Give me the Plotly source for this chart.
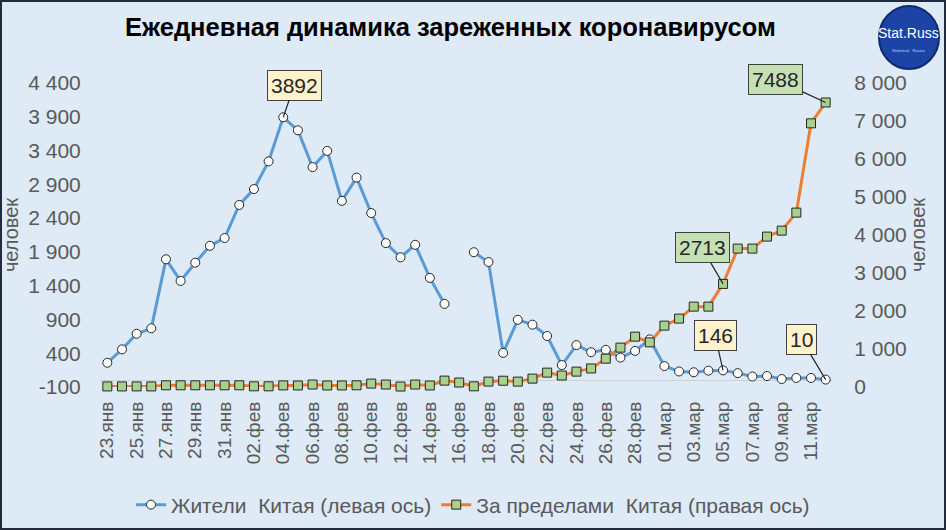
import plotly.graph_objects as go

# --- data ---------------------------------------------------------------
MONTHS = [("янв", range(23, 32)), ("фев", range(1, 30)), ("мар", range(1, 13))]
DATES = [f"{d:02d}.{m}" for m, days in MONTHS for d in days]

CHINA = [259, 457, 688, 769, 1790, 1470, 1740, 1990, 2105, 2595,
         2830, 3240, 3892, 3700, 3155, 3395, 2655, 3000, 2475, 2030,
         1820, 2005, 1515, 1130, None, 1895, 1750, 405, 895, 823,
         655, 225, 520, 415, 450, 335, 435, 605, 210, 130,
         118, 142, 146, 105, 55, 62, 18, 34, 34, 10]

OUTSIDE = [15, 15, 15, 15, 45, 45, 45, 45, 45, 45,
           18, 18, 42, 40, 65, 40, 40, 45, 90, 65,
           12, 65, 40, 168, 118, 18, 142, 165, 142, 220,
           378, 303, 405, 488, 746, 1036, 1325, 1175, 1615, 1800,
           2115, 2115, 2713, 3642, 3642, 3958, 4115, 4589, 6939, 7488]

LEFT_TICKS = [-100, 400, 900, 1400, 1900, 2400, 2900, 3400, 3900, 4400]
RIGHT_TICKS = [0, 1000, 2000, 3000, 4000, 5000, 6000, 7000, 8000]

# --- layout constants ---------------------------------------------------
W, H = 946, 530
L, R, T, B = 100, 113, 83, 143
PW, PH = W - L - R, H - T - B
BG = "#DEEAF6"
GREY = "#595959"
FONT = "Liberation Sans"


def px(x, y):
    """page pixel -> paper coords (for decorations only)"""
    return (x - L) / PW, (H - B - y) / PH


def fmt(v):
    return f"{v:,}".replace(",", " ")


fig = go.Figure()

fig.add_trace(go.Scatter(
    x=list(range(len(DATES))), y=CHINA,
    name="Жители  Китая (левая ось)",
    mode="lines+markers",
    line=dict(color="#5B9BD5", width=3),
    marker=dict(symbol="circle", size=9, color="white",
                line=dict(color="#262626", width=1)),
    connectgaps=False, cliponaxis=False,
))
fig.add_trace(go.Scatter(
    x=list(range(len(DATES))), y=OUTSIDE,
    name="За пределами  Китая (правая ось)",
    mode="lines+markers",
    line=dict(color="#ED7D31", width=3),
    marker=dict(symbol="square", size=9, color="#A9D18E",
                line=dict(color="#262626", width=1)),
    yaxis="y2", cliponaxis=False,
))

# callouts
callouts = [
    (DATES.index("04.фев"), "y", CHINA, "#FFF2CC", 11, -32),
    (DATES.index("05.мар"), "y", CHINA, "#FFF2CC", -8, -35),
    (len(DATES) - 1, "y", CHINA, "#FFF2CC", -24, -40),
    (DATES.index("05.мар"), "y2", OUTSIDE, "#C5E0B4", -21, -36),
    (len(DATES) - 1, "y2", OUTSIDE, "#C5E0B4", -50, -23),
]
for i, yref, series, fill, ax, ay in callouts:
    fig.add_annotation(
        x=i, y=series[i], xref="x", yref=yref,
        text=str(series[i]), showarrow=True, arrowhead=0,
        arrowwidth=1.2, arrowcolor="#262626", ax=ax, ay=ay, standoff=0,
        bgcolor=fill, bordercolor="#404040", borderwidth=1, borderpad=3,
        font=dict(family=FONT, size=21, color="#262626"),
    )

# title
tx, ty = px(450, 27)
fig.add_annotation(
    x=tx, y=ty, xref="paper", yref="paper", showarrow=False,
    xanchor="center", yanchor="middle",
    text="<b>Ежедневная динамика зареженных коронавирусом</b>",
    font=dict(family=FONT, size=25.5, color="black"),
)

# logo
x0, y0 = px(879, 6)
x1, y1 = px(939, 69)
fig.add_shape(type="circle", xref="paper", yref="paper",
              x0=x0, y0=y1, x1=x1, y1=y0,
              fillcolor="#1C44A6", line=dict(color="#0E2A6B", width=2))
lx, ly = px(909, 33)
fig.add_annotation(x=lx, y=ly, xref="paper", yref="paper", showarrow=False,
                   xanchor="center", yanchor="middle",
                   text="Stat.Russ",
                   font=dict(family=FONT, size=14, color="white"))
sx, sy = px(909, 50)
fig.add_annotation(x=sx, y=sy, xref="paper", yref="paper", showarrow=False,
                   xanchor="center", yanchor="middle",
                   text="Statistical   Russia",
                   font=dict(family=FONT, size=4, color="#C8D8F0"))

# page frame
fx0, fy0 = px(0, H)
fx1, fy1 = px(W, 0)
fig.add_shape(type="rect", xref="paper", yref="paper",
              x0=fx0, y0=fy0, x1=fx1, y1=fy1,
              line=dict(color="#222B3B", width=4), fillcolor="rgba(0,0,0,0)")

fig.update_layout(
    width=W, height=H,
    margin=dict(l=L, r=R, t=T, b=B),
    paper_bgcolor=BG, plot_bgcolor=BG,
    font=dict(family=FONT, color=GREY),
    showlegend=True,
    legend=dict(orientation="h", x=0.5, xanchor="center",
                xref="container", yref="container",
                y=1 - 505 / H, yanchor="middle",
                font=dict(family=FONT, size=21, color=GREY),
                bgcolor="rgba(0,0,0,0)"),
    xaxis=dict(
        range=[-0.5, len(DATES) - 0.5],
        tickmode="array",
        tickvals=list(range(0, len(DATES), 2)),
        ticktext=DATES[::2],
        tickangle=-90,
        tickfont=dict(size=19, color=GREY),
        ticks="outside", ticklen=6, tickcolor="rgba(0,0,0,0)",
        showgrid=False, zeroline=False, showline=False, automargin=False,
    ),
    yaxis=dict(
        range=[LEFT_TICKS[0], LEFT_TICKS[-1]],
        tickmode="array", tickvals=LEFT_TICKS,
        ticktext=[fmt(v) for v in LEFT_TICKS],
        tickfont=dict(size=21, color=GREY),
        ticks="outside", ticklen=14, tickcolor="rgba(0,0,0,0)",
        showgrid=False, zeroline=True, zerolinecolor="#D0D0D0", zerolinewidth=1,
        title=dict(text="человек", font=dict(size=20, color=GREY), standoff=4),
        automargin=False,
    ),
    yaxis2=dict(
        range=[RIGHT_TICKS[0], RIGHT_TICKS[-1]],
        overlaying="y", side="right",
        tickmode="array", tickvals=RIGHT_TICKS,
        ticktext=[fmt(v) for v in RIGHT_TICKS],
        tickfont=dict(size=21, color=GREY),
        ticks="outside", ticklen=16, tickcolor="rgba(0,0,0,0)",
        showgrid=False, zeroline=False,
        title=dict(text="человек", font=dict(size=20, color=GREY), standoff=4),
        automargin=False,
    ),
)

fig.write_html("out.html", config={"displayModeBar": False},
               post_script="document.body.style.margin='0';")
